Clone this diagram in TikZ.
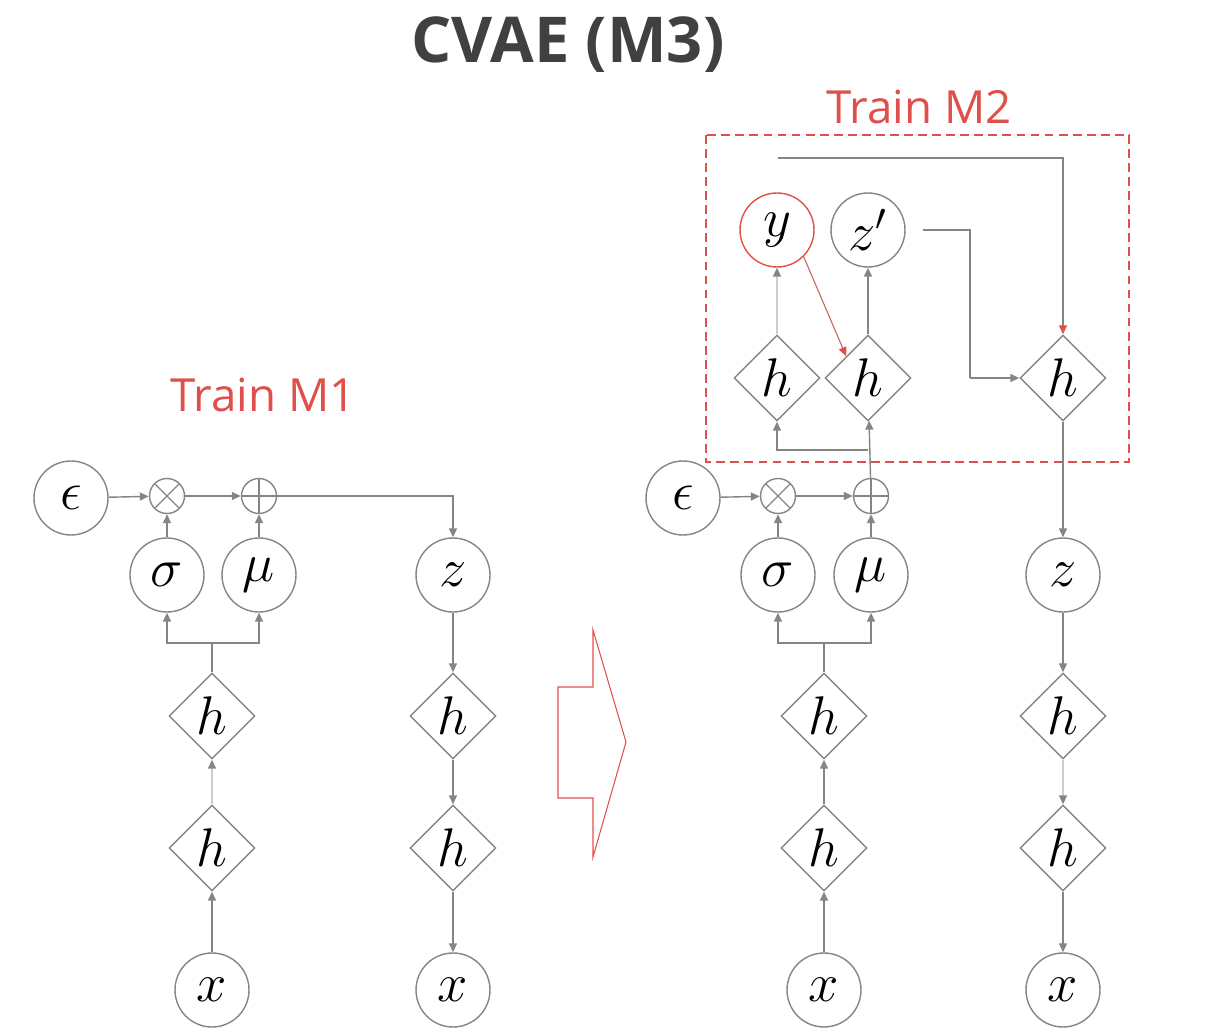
\IfFileExists{fix-cm.sty}{\RequirePackage{fix-cm}}{}
\documentclass[tikz,border=0pt]{standalone}
\usepackage{fontspec}
\newfontfamily\headfont{Open Sans}
\usetikzlibrary{shapes.geometric,arrows.meta}
\definecolor{CVGray}{HTML}{858585}
\definecolor{CVFaint}{HTML}{CDCDCD}
\definecolor{CVRed}{HTML}{E0504A}
\definecolor{CVDark}{HTML}{404040}
\tikzset{
  var/.style={circle,draw=CVGray,line width=0.8pt,minimum size=1.48cm,inner sep=0pt,font=\fontsize{31}{36}\selectfont},
  hid/.style={diamond,draw=CVGray,line width=0.8pt,minimum size=1.72cm,inner sep=0pt,font=\fontsize{31}{36}\selectfont},
  op/.style={circle,draw=CVGray,line width=0.8pt,minimum size=0.7cm,inner sep=0pt},
  mul/.style={op,path picture={\draw[CVGray,line width=0.8pt]
      (path picture bounding box.north west) -- (path picture bounding box.south east)
      (path picture bounding box.north east) -- (path picture bounding box.south west);}},
  add/.style={op,path picture={\draw[CVGray,line width=0.8pt]
      (path picture bounding box.north) -- (path picture bounding box.south)
      (path picture bounding box.west) -- (path picture bounding box.east);}},
  link/.style={draw=CVGray,line width=0.8pt,-{Triangle[length=0.18cm,width=0.16cm,color=CVGray]}},
  faint/.style={link,draw=CVFaint},
  redlink/.style={draw=CVGray,line width=0.8pt,-{Triangle[length=0.18cm,width=0.16cm,color=CVRed]}},
  plain/.style={draw=CVGray,line width=0.8pt},
  tag/.style={text=CVRed,font=\headfont\fontsize{26}{30}\selectfont},
}
\begin{document}
\begin{tikzpicture}[x=0.02cm,y=-0.02cm]
\path[use as bounding box] (0,0) rectangle (1205,1034);
\node[text=CVDark,font=\headfont\bfseries\fontsize{36}{42}\selectfont] (title) at (568,45) {CVAE (M3)};
\node[tag] (trainA) at (263,395) {Train M1};
\node[tag] (trainB) at (919,107) {Train M2};
% M1
\node[var] (epsA) at (71,498) {$\epsilon$};
\node[mul] (mulA) at (167,496) {};
\node[add] (addA) at (259,496) {};
\node[var] (sigA) at (167,575) {$\sigma$};
\node[var] (muA) at (259,575) {$\mu$};
\node[hid] (encA) at (212,716) {$h$};
\node[hid] (encB) at (212,848) {$h$};
\node[var] (inA) at (212,990) {$x$};
\node[var] (zA) at (453,575) {$z$};
\node[hid] (decA) at (453,716) {$h$};
\node[hid] (decB) at (453,848) {$h$};
\node[var] (outA) at (453,990) {$x$};
\coordinate (forkA) at (212,643);
\draw[link] (epsA) -- (mulA);
\draw[link] (mulA) -- (addA);
\draw[link] (addA) -| (zA);
\draw[link] (sigA) -- (mulA);
\draw[link] (muA) -- (addA);
\draw[plain] (encA) -- (forkA);
\draw[link] (forkA) -| (sigA);
\draw[link] (forkA) -| (muA);
\draw[faint] (encB) -- (encA);
\draw[link] (inA) -- (encB);
\draw[link] (zA) -- (decA);
\draw[link] (decA) -- (decB);
\draw[link] (decB) -- (outA);
% arrow between
\draw[CVRed,line width=0.6pt] (558,687) -- (593,687) -- (593,630) -- (626,742)
  -- (593,857) -- (593,798) -- (558,798) -- cycle;
% M3
\draw[CVRed,line width=0.8pt,dash pattern=on 5pt off 3pt] (706,135) rectangle (1129,462);
\node[var] (epsB) at (683,498) {$\epsilon$};
\node[mul] (mulB) at (778,496) {};
\node[add] (addB) at (871,496) {};
\node[var] (sigB) at (778,575) {$\sigma$};
\node[var] (muB) at (871,575) {$\mu$};
\node[hid] (encC) at (824,716) {$h$};
\node[hid] (encD) at (824,848) {$h$};
\node[var] (inB) at (824,990) {$x$};
\node[var] (zB) at (1063,575) {$z$};
\node[hid] (decC) at (1063,716) {$h$};
\node[hid] (decD) at (1063,848) {$h$};
\node[var] (outB) at (1063,990) {$x$};
\node[var,draw=CVRed] (lab) at (777,230) {$y$};
\node[var] (zc) at (868,230) {$z'$};
\node[hid] (clsA) at (777,378) {$h$};
\node[hid] (clsB) at (868,378) {$h$};
\node[hid] (mix) at (1063,378) {$h$};
\coordinate (forkB) at (824,643);
\coordinate (forkC) at (868,450);
\coordinate (labTop) at (778,158);
\coordinate (bend) at (970,378);
\draw[link] (epsB) -- (mulB);
\draw[link] (mulB) -- (addB);
\draw[link] (sigB) -- (mulB);
\draw[link] (muB) -- (addB);
\draw[plain] (encC) -- (forkB);
\draw[link] (forkB) -| (sigB);
\draw[link] (forkB) -| (muB);
\draw[link] (encD) -- (encC);
\draw[link] (inB) -- (encD);
\draw[link] (addB) -- (clsB);
\draw[link] (forkC) -| (clsA);
\draw[faint] (clsA) -- (lab);
\draw[link] (clsB) -- (zc);
\draw[redlink,draw=CVRed!70!CVGray,line width=0.6pt] (lab.south east) -- (clsB.north west);
\draw[redlink] (labTop) -| (mix);
\draw[plain,shorten <=0.34cm] (zc.east) -| (bend);
\draw[link] (bend) -- (mix);
\draw[link] (mix) -- (zB);
\draw[link] (zB) -- (decC);
\draw[faint] (decC) -- (decD);
\draw[link] (decD) -- (outB);
\end{tikzpicture}
\end{document}
